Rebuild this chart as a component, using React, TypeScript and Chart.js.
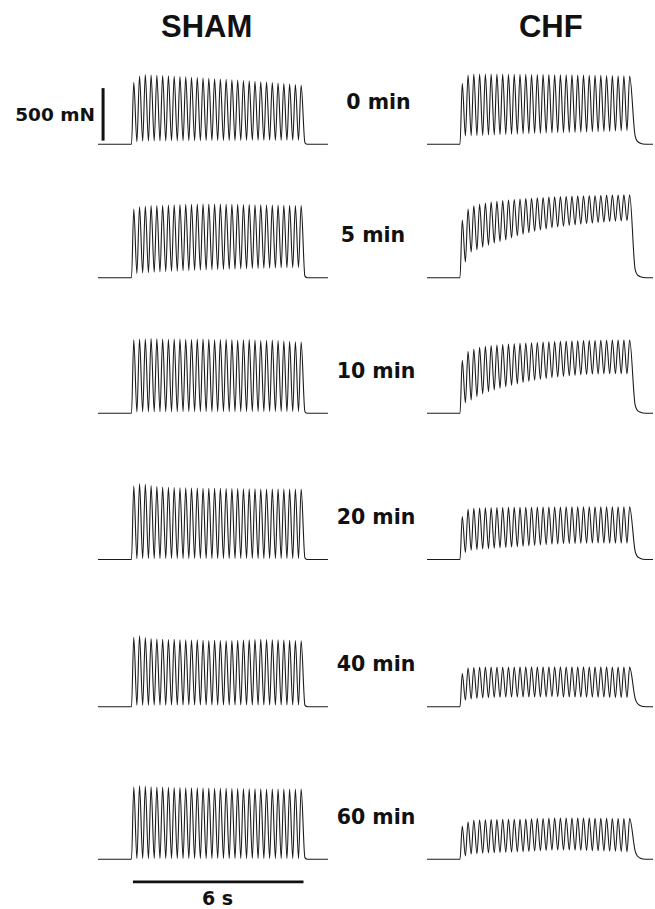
import React, { useEffect, useRef } from "react";
import { Chart, registerables } from "chart.js";

Chart.register(...registerables);

// ---------------- data ----------------
const GROUPS = ["SHAM", "CHF"];
const TIMEPOINTS = ["0 min", "5 min", "10 min", "20 min", "40 min", "60 min"];

// time (s) of each twitch peak during the 6 s, 5 Hz stimulation
const STIM_TIMES = [
  0.08, 0.283, 0.486, 0.689, 0.892, 1.095, 1.298, 1.501, 1.704, 1.907,
  2.11, 2.313, 2.516, 2.719, 2.922, 3.125, 3.328, 3.531, 3.734, 3.937,
  4.14, 4.343, 4.546, 4.749, 4.952, 5.155, 5.358, 5.561, 5.764, 5.967,
];
// time (s) of each relaxation minimum between twitches
const TROUGH_TIMES = [
  0.19, 0.393, 0.596, 0.799, 1.002, 1.205, 1.408, 1.611, 1.814, 2.017,
  2.22, 2.423, 2.626, 2.829, 3.032, 3.235, 3.438, 3.641, 3.844, 4.047,
  4.25, 4.453, 4.656, 4.859, 5.062, 5.265, 5.468, 5.671, 5.874,
];

// recording window (s) and relaxation after the last twitch
const SHAM_TRACE_T = [-1.18, 6.91];
const CHF_TRACE_T = [-1.16, 6.79];
const SHAM_TAIL_T = [6.1, 6.2];
const SHAM_TAIL_MN = [15, 0];
const CHF_TAIL_T = [6.16, 6.33, 6.55];
const CHF_TAIL_MN = [80, 12, 0];

// force (mN) at peaks and troughs, SHAM
const SHAM_0_PEAKS = [590, 650, 665, 660, 658, 655, 652, 648, 645, 642, 638, 635, 632, 628, 625, 622, 618, 615, 612, 608, 604, 600, 596, 592, 588, 583, 578, 573, 568, 562];
const SHAM_0_TROUGHS = [25, 30, 30, 32, 32, 32, 34, 34, 34, 35, 35, 35, 36, 36, 36, 36, 37, 37, 37, 38, 38, 38, 38, 39, 39, 39, 40, 40, 40];
const SHAM_5_PEAKS = [655, 676, 680, 686, 688, 690, 692, 694, 696, 698, 700, 701, 702, 702, 702, 701, 700, 699, 698, 697, 696, 695, 694, 693, 692, 691, 690, 689, 688, 686];
const SHAM_5_TROUGHS = [41, 45, 49, 52, 55, 58, 61, 63, 66, 68, 70, 72, 74, 76, 78, 79, 81, 82, 84, 85, 87, 88, 90, 91, 92, 94, 95, 96, 98];
const SHAM_10_PEAKS = [700, 708, 706, 712, 710, 706, 704, 706, 708, 704, 702, 706, 708, 704, 700, 702, 704, 700, 698, 700, 702, 698, 694, 696, 698, 692, 688, 686, 682, 678];
const SHAM_10_TROUGHS = [12, 14, 14, 15, 15, 15, 15, 15, 16, 16, 16, 16, 16, 16, 16, 16, 16, 16, 16, 17, 17, 17, 17, 17, 17, 17, 17, 17, 17];
const SHAM_20_PEAKS = [700, 722, 715, 705, 695, 690, 688, 686, 684, 682, 680, 680, 679, 678, 678, 677, 676, 676, 675, 674, 674, 673, 672, 672, 671, 671, 670, 670, 670, 670];
const SHAM_20_TROUGHS = [8, 9, 9, 10, 10, 10, 10, 10, 10, 10, 10, 10, 10, 10, 10, 10, 10, 10, 10, 10, 10, 10, 10, 10, 10, 10, 10, 10, 10];
const SHAM_40_PEAKS = [660, 676, 658, 648, 645, 643, 640, 642, 638, 636, 634, 636, 632, 630, 632, 630, 628, 630, 632, 634, 636, 640, 642, 640, 638, 636, 634, 632, 630, 628];
const SHAM_40_TROUGHS = [14, 15, 15, 15, 15, 15, 16, 16, 16, 16, 16, 16, 16, 16, 16, 16, 16, 16, 16, 16, 16, 16, 16, 16, 16, 16, 16, 16, 16];
const SHAM_60_PEAKS = [688, 698, 694, 690, 688, 686, 684, 683, 682, 681, 680, 679, 678, 677, 676, 676, 675, 674, 673, 672, 671, 670, 670, 669, 668, 668, 667, 667, 667, 667];
const SHAM_60_TROUGHS = [6, 7, 7, 7, 7, 7, 7, 7, 7, 7, 7, 7, 7, 7, 7, 7, 7, 7, 7, 7, 7, 7, 7, 7, 7, 7, 7, 7, 7];

// force (mN) at peaks and troughs, CHF
const CHF_0_PEAKS = [580, 660, 670, 670, 669, 669, 668, 668, 667, 667, 666, 666, 665, 665, 664, 664, 663, 662, 662, 661, 660, 659, 658, 657, 656, 655, 654, 653, 652, 650];
const CHF_0_TROUGHS = [80, 82, 84, 86, 88, 90, 92, 94, 96, 98, 100, 102, 104, 105, 107, 108, 110, 111, 113, 114, 116, 117, 119, 120, 122, 124, 126, 128, 130];
const CHF_5_PEAKS = [550, 655, 685, 700, 712, 720, 728, 735, 740, 745, 749, 753, 757, 760, 764, 767, 770, 772, 775, 777, 779, 780, 782, 783, 785, 786, 787, 788, 789, 790];
const CHF_5_TROUGHS = [150, 245, 265, 290, 310, 330, 345, 360, 380, 400, 415, 430, 442, 455, 465, 475, 483, 490, 497, 503, 510, 515, 520, 525, 530, 535, 538, 541, 544];
const CHF_10_PEAKS = [505, 590, 613, 628, 638, 645, 650, 655, 659, 663, 666, 669, 672, 675, 678, 681, 683, 685, 687, 689, 691, 692, 693, 694, 695, 696, 697, 697, 698, 698];
const CHF_10_TROUGHS = [100, 126, 160, 185, 205, 222, 238, 252, 266, 280, 295, 305, 315, 324, 332, 340, 346, 352, 357, 362, 366, 370, 373, 375, 376, 377, 377, 377, 377];
const CHF_20_PEAKS = [410, 478, 487, 490, 492, 493, 494, 495, 496, 497, 497, 498, 498, 499, 499, 500, 500, 500, 501, 501, 501, 502, 502, 502, 502, 503, 503, 503, 503, 503];
const CHF_20_TROUGHS = [69, 88, 95, 100, 103, 107, 111, 114, 118, 122, 126, 130, 134, 138, 142, 146, 149, 151, 153, 154, 155, 156, 157, 157, 157, 157, 157, 157, 157];
const CHF_40_PEAKS = [315, 368, 374, 376, 377, 377, 378, 378, 378, 378, 379, 379, 379, 379, 379, 380, 380, 380, 380, 380, 380, 380, 379, 379, 379, 379, 378, 378, 378, 377];
const CHF_40_TROUGHS = [63, 75, 80, 84, 87, 89, 90, 91, 92, 93, 94, 94, 94, 94, 94, 94, 94, 93, 93, 92, 92, 91, 91, 90, 90, 89, 88, 88, 87];
const CHF_60_PEAKS = [315, 355, 371, 374, 376, 377, 378, 379, 379, 380, 380, 382, 384, 386, 388, 390, 392, 393, 393, 393, 392, 392, 391, 390, 390, 389, 388, 388, 387, 387];
const CHF_60_TROUGHS = [31, 50, 54, 57, 60, 62, 64, 66, 68, 70, 72, 75, 78, 81, 84, 87, 88, 88, 87, 86, 85, 83, 82, 80, 79, 77, 76, 74, 72];

// scale bars
const FORCE_BAR_T = -1.0; // s
const FORCE_BAR_MN = [35, 535]; // 500 mN
const TIME_BAR_T = [0.05, 6.05]; // 6 s
const TIME_BAR_MN = -216;

const TRACES = [
  [[SHAM_0_PEAKS, SHAM_0_TROUGHS], [CHF_0_PEAKS, CHF_0_TROUGHS]],
  [[SHAM_5_PEAKS, SHAM_5_TROUGHS], [CHF_5_PEAKS, CHF_5_TROUGHS]],
  [[SHAM_10_PEAKS, SHAM_10_TROUGHS], [CHF_10_PEAKS, CHF_10_TROUGHS]],
  [[SHAM_20_PEAKS, SHAM_20_TROUGHS], [CHF_20_PEAKS, CHF_20_TROUGHS]],
  [[SHAM_40_PEAKS, SHAM_40_TROUGHS], [CHF_40_PEAKS, CHF_40_TROUGHS]],
  [[SHAM_60_PEAKS, SHAM_60_TROUGHS], [CHF_60_PEAKS, CHF_60_TROUGHS]],
];

// ---------------- layout ----------------
const PX_PER_S = 28.43;
const PX_PER_MN = 0.105;
const ROW_BASE_Y = [144.3, 277.7, 413.3, 559.5, 706.7, 859.2];
const COL_ONSET_X = [131.5, 460];
const VIEW_T = [-1.25, 7.0];
const VIEW_MN = [-250, 820];
const LABEL_X = [378.5, 373, 376, 376, 376, 376];
const TRACE_COLOR = "#1b1b1b";
const INK = "#111";

function tracePoints(group: number, peaks: number[], troughs: number[]) {
  const win = group === 0 ? SHAM_TRACE_T : CHF_TRACE_T;
  const tailT = group === 0 ? SHAM_TAIL_T : CHF_TAIL_T;
  const tailV = group === 0 ? SHAM_TAIL_MN : CHF_TAIL_MN;
  const pts: { x: number; y: number }[] = [
    { x: win[0], y: 0 },
    { x: 0, y: 0 },
  ];
  for (let i = 0; i < peaks.length; i++) {
    pts.push({ x: STIM_TIMES[i], y: peaks[i] });
    if (i < troughs.length) pts.push({ x: TROUGH_TIMES[i], y: troughs[i] });
  }
  for (let i = 0; i < tailT.length; i++) pts.push({ x: tailT[i], y: tailV[i] });
  pts.push({ x: win[1], y: 0 });
  return pts;
}

type Cell = {
  key: string;
  left: number;
  top: number;
  w: number;
  h: number;
  xmin: number;
  xmax: number;
  ymin: number;
  ymax: number;
  datasets: any[];
};

function buildCells(): Cell[] {
  const cells: Cell[] = [];
  for (let r = 0; r < TRACES.length; r++) {
    for (let g = 0; g < GROUPS.length; g++) {
      const onsetX = COL_ONSET_X[g];
      const baseY = ROW_BASE_Y[r];
      const left = Math.round(onsetX + VIEW_T[0] * PX_PER_S);
      const right = Math.round(onsetX + VIEW_T[1] * PX_PER_S);
      const top = Math.round(baseY - VIEW_MN[1] * PX_PER_MN);
      const bottom = Math.round(baseY - VIEW_MN[0] * PX_PER_MN);
      const w = right - left;
      const h = bottom - top;
      const xmin = (left - onsetX) / PX_PER_S;
      const xmax = (right - onsetX) / PX_PER_S;
      const ymax = (baseY - top) / PX_PER_MN;
      const ymin = (baseY - bottom) / PX_PER_MN;
      const [peaks, troughs] = TRACES[r][g];
      const datasets: any[] = [
        {
          data: tracePoints(g, peaks, troughs),
          borderColor: TRACE_COLOR,
          borderWidth: 1.1,
          cubicInterpolationMode: "monotone",
          pointRadius: 0,
          fill: false,
        },
      ];
      if (r === 0 && g === 0) {
        datasets.push({
          data: [
            { x: FORCE_BAR_T, y: FORCE_BAR_MN[0] },
            { x: FORCE_BAR_T, y: FORCE_BAR_MN[1] },
          ],
          borderColor: INK,
          borderWidth: 3,
          tension: 0,
          pointRadius: 0,
          fill: false,
        });
      }
      if (r === TRACES.length - 1 && g === 0) {
        datasets.push({
          data: [
            { x: TIME_BAR_T[0], y: TIME_BAR_MN },
            { x: TIME_BAR_T[1], y: TIME_BAR_MN },
          ],
          borderColor: INK,
          borderWidth: 2.7,
          tension: 0,
          pointRadius: 0,
          fill: false,
        });
      }
      cells.push({ key: `${r}-${g}`, left, top, w, h, xmin, xmax, ymin, ymax, datasets });
    }
  }
  return cells;
}

function TraceCanvas({ cell }: { cell: Cell }) {
  const ref = useRef<HTMLCanvasElement | null>(null);
  useEffect(() => {
    if (!ref.current) return;
    const chart = new Chart(ref.current, {
      type: "line",
      data: { datasets: cell.datasets },
      options: {
        animation: false,
        responsive: false,
        maintainAspectRatio: false,
        devicePixelRatio: 1,
        events: [],
        layout: { padding: 0 },
        plugins: { legend: { display: false }, tooltip: { enabled: false } },
        scales: {
          x: { type: "linear", min: cell.xmin, max: cell.xmax, display: false },
          y: { type: "linear", min: cell.ymin, max: cell.ymax, display: false },
        },
        elements: { point: { radius: 0 } },
      } as any,
    });
    return () => chart.destroy();
  }, [cell]);
  return (
    <canvas
      ref={ref}
      width={cell.w}
      height={cell.h}
      style={{
        position: "absolute",
        left: cell.left,
        top: cell.top,
        width: cell.w,
        height: cell.h,
        display: "block",
      }}
    />
  );
}

const CELLS = buildCells();

function Label({
  text,
  x,
  y,
  size,
  family,
  align = "center",
}: {
  text: string;
  x: number;
  y: number;
  size: number;
  family: string;
  align?: "center" | "right";
}) {
  return (
    <div
      style={{
        position: "absolute",
        left: x,
        top: y,
        transform: align === "center" ? "translate(-50%, -50%)" : "translate(-100%, -50%)",
        fontFamily: family,
        fontWeight: "bold",
        fontSize: size,
        lineHeight: 1,
        whiteSpace: "nowrap",
        color: INK,
      }}
    >
      {text}
    </div>
  );
}

export default function App() {
  const titleFont = '"Liberation Sans", Arial, sans-serif';
  const labelFont = '"DejaVu Sans", sans-serif';
  return (
    <div
      style={{
        position: "absolute",
        left: 0,
        top: 0,
        width: 655,
        height: 909,
        background: "#fff",
        overflow: "hidden",
      }}
    >
      {CELLS.map((c) => (
        <TraceCanvas key={c.key} cell={c} />
      ))}
      <Label text={GROUPS[0]} x={206.7} y={25.7} size={31} family={titleFont} />
      <Label text={GROUPS[1]} x={550.8} y={25.7} size={31} family={titleFont} />
      <Label text="500 mN" x={95} y={115} size={18.5} family={labelFont} align="right" />
      {TIMEPOINTS.map((t, i) => (
        <Label key={t} text={t} x={LABEL_X[i]} y={ROW_BASE_Y[i] - 42.5} size={20.5} family={labelFont} />
      ))}
      <Label text="6 s" x={217.5} y={898.3} size={19} family={labelFont} />
    </div>
  );
}
